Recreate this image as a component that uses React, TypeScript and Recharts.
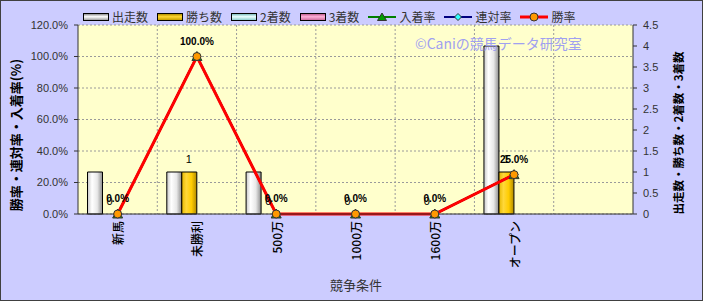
import { Bar, CartesianGrid, ComposedChart, LabelList, Line, XAxis, YAxis } from "recharts";

const categories = ["新馬", "未勝利", "500万", "1000万", "1600万", "オープン", ""];
const starts = [1, 1, 1, 0, 0, 4, null];
const wins = [0, 1, 0, 0, 0, 1, null];
const seconds = [0, 0, 0, 0, 0, 0, null];
const thirds = [0, 0, 0, 0, 0, 0, null];
const placeRate = [0, 100, 0, 0, 0, 25, null];
const rentaiRate = [0, 100, 0, 0, 0, 25, null];
const winRate = [0, 100, 0, 0, 0, 25, null];

const leftTicks = [0, 20, 40, 60, 80, 100, 120];
const rightTicks = [0, 0.5, 1, 1.5, 2, 2.5, 3, 3.5, 4, 4.5];

const data = categories.map((name, i) => ({
  name,
  starts: starts[i],
  wins: wins[i],
  seconds: seconds[i],
  thirds: thirds[i],
  place: placeRate[i],
  rentai: rentaiRate[i],
  win: winRate[i],
}));

const FONT = '"Noto Sans CJK JP", "Liberation Sans", sans-serif';
const NUM_FONT = '"Liberation Sans", Arial, sans-serif';

const legendItems = [
  { name: "出走数", kind: "bar", fill: "linear-gradient(to bottom, #909090, #ffffff 45%, #a0a0a0)" },
  { name: "勝ち数", kind: "bar", fill: "linear-gradient(to bottom, #b38f00, #ffd633 45%, #c79f00)" },
  { name: "2着数", kind: "bar", fill: "linear-gradient(to bottom, #7fbfbf, #eaffff 45%, #8fcfcf)" },
  { name: "3着数", kind: "bar", fill: "linear-gradient(to bottom, #c0608f, #ffb0d8 45%, #d0709f)" },
  { name: "入着率", kind: "line", stroke: "#008000", marker: "tri" },
  { name: "連対率", kind: "line", stroke: "#000080", marker: "dia" },
  { name: "勝率", kind: "line", stroke: "#ff0000", marker: "circle" },
];

function XTick(props: any) {
  const { x, y, payload } = props;
  const ty = y + 7;
  return (
    <text
      x={x}
      y={ty}
      transform={`rotate(-90 ${x} ${ty})`}
      textAnchor="end"
      dominantBaseline="central"
      fontSize={12}
      fontFamily={FONT}
      fontWeight={500}
      fill="#000"
    >
      {payload.value}
    </text>
  );
}

function TriangleDot(p: any) {
  const { cx, cy, index } = p;
  if (cx == null || cy == null) return <g key={`t-${index}`} />;
  return (
    <polygon
      key={`t-${index}`}
      points={`${cx},${cy - 5} ${cx - 5},${cy + 4} ${cx + 5},${cy + 4}`}
      fill="#00a000"
      stroke="#333"
      strokeWidth={1}
    />
  );
}

function DiamondDot(p: any) {
  const { cx, cy, index } = p;
  if (cx == null || cy == null) return <g key={`d-${index}`} />;
  return (
    <polygon
      key={`d-${index}`}
      points={`${cx},${cy - 4} ${cx + 4},${cy} ${cx},${cy + 4} ${cx - 4},${cy}`}
      fill="#33ffff"
      stroke="#333"
      strokeWidth={1}
    />
  );
}

function LegendMarker({ item }: { item: any }) {
  if (item.kind === "bar") {
    return (
      <span
        style={{
          display: "inline-block",
          width: 24,
          height: 6,
          border: "1px solid #000",
          background: item.fill,
        }}
      />
    );
  }
  return (
    <svg width={28} height={10} style={{ display: "block" }}>
      <line x1={0} y1={5} x2={28} y2={5} stroke={item.stroke} strokeWidth={item.marker === "circle" ? 3 : 2} />
      {item.marker === "tri" && <polygon points="14,1 9.5,8.5 18.5,8.5" fill="#00a000" stroke="#333" strokeWidth={1} />}
      {item.marker === "dia" && <polygon points="14,1.5 17.5,5 14,8.5 10.5,5" fill="#33ffff" stroke="#333" strokeWidth={1} />}
      {item.marker === "circle" && <circle cx={14} cy={5} r={4} fill="#ff9900" stroke="#333" strokeWidth={1} />}
    </svg>
  );
}

export default function App() {
  return (
    <div style={{ position: "absolute", left: 0, top: 0, width: 703, height: 301, background: "#ccccff" }}>
      <ComposedChart
        width={703}
        height={301}
        data={data}
        margin={{ top: 25, right: 0, bottom: 0, left: 0 }}
        barCategoryGap="12%"
        barGap={0}
      >
        <defs>
          <linearGradient id="gWhite" x1="0" y1="0" x2="1" y2="0">
            <stop offset="0%" stopColor="#c8c8c8" />
            <stop offset="30%" stopColor="#ffffff" />
            <stop offset="65%" stopColor="#e8e8e8" />
            <stop offset="100%" stopColor="#8c8c8c" />
          </linearGradient>
          <linearGradient id="gGold" x1="0" y1="0" x2="1" y2="0">
            <stop offset="0%" stopColor="#e6b800" />
            <stop offset="30%" stopColor="#ffd83a" />
            <stop offset="65%" stopColor="#ffcc00" />
            <stop offset="100%" stopColor="#b08a00" />
          </linearGradient>
          <linearGradient id="gCyan" x1="0" y1="0" x2="1" y2="0">
            <stop offset="0%" stopColor="#bfeeee" />
            <stop offset="30%" stopColor="#eaffff" />
            <stop offset="100%" stopColor="#80c0c0" />
          </linearGradient>
          <linearGradient id="gPink" x1="0" y1="0" x2="1" y2="0">
            <stop offset="0%" stopColor="#ee99c4" />
            <stop offset="30%" stopColor="#ffc0e0" />
            <stop offset="100%" stopColor="#c06090" />
          </linearGradient>
        </defs>
        <CartesianGrid
          yAxisId="left"
          fill="#ffffcc"
          stroke="#9a9a9a"
          strokeDasharray="2 2"
          verticalCoordinatesGenerator={({ offset }: any) =>
            categories.slice(1).map((_, i) => offset.left + (offset.width * (i + 1)) / categories.length)
          }
        />
        <XAxis
          dataKey="name"
          height={87}
          interval={0}
          tick={<XTick />}
          tickLine={false}
          tickSize={0}
          tickMargin={0}
          axisLine={{ stroke: "#333" }}
        />
        <YAxis
          yAxisId="left"
          orientation="left"
          width={78}
          domain={[0, 120]}
          ticks={leftTicks}
          tickFormatter={(v: number) => `${v.toFixed(1)}%`}
          tickSize={4}
          tickMargin={6}
          tick={{ fontSize: 11, fill: "#333", fontFamily: NUM_FONT }}
          axisLine={{ stroke: "#333" }}
          tickLine={{ stroke: "#333" }}
        />
        <YAxis
          yAxisId="right"
          orientation="right"
          width={70}
          domain={[0, 4.5]}
          ticks={rightTicks}
          tickFormatter={(v: number) => String(v)}
          tickSize={4}
          tickMargin={6}
          tick={{ fontSize: 11, fill: "#333", fontFamily: NUM_FONT }}
          axisLine={{ stroke: "#333" }}
          tickLine={{ stroke: "#333" }}
        />
        <Bar yAxisId="right" dataKey="starts" fill="url(#gWhite)" stroke="#000" strokeWidth={1} isAnimationActive={false} />
        <Bar yAxisId="right" dataKey="wins" fill="url(#gGold)" stroke="#000" strokeWidth={1} isAnimationActive={false} />
        <Bar yAxisId="right" dataKey="seconds" fill="url(#gCyan)" stroke="#000" strokeWidth={1} isAnimationActive={false} />
        <Bar yAxisId="right" dataKey="thirds" fill="url(#gPink)" stroke="#000" strokeWidth={1} isAnimationActive={false} />
        {/* value labels for 勝ち数, zero bars included */}
        <Line
          yAxisId="right"
          dataKey="wins"
          stroke="none"
          dot={false}
          activeDot={false}
          legendType="none"
          isAnimationActive={false}
        >
          <LabelList dataKey="wins" position="top" offset={9} dx={-8} fontSize={11} fill="#000" fontFamily={NUM_FONT} />
        </Line>
        <Line
          yAxisId="left"
          dataKey="place"
          stroke="#008000"
          strokeWidth={2}
          dot={TriangleDot}
          activeDot={false}
          isAnimationActive={false}
        />
        <Line
          yAxisId="left"
          dataKey="rentai"
          stroke="#000080"
          strokeWidth={2}
          dot={DiamondDot}
          activeDot={false}
          isAnimationActive={false}
        />
        <Line
          yAxisId="left"
          dataKey="win"
          stroke="#ff0000"
          strokeWidth={3}
          dot={{ r: 4, fill: "#ff9900", stroke: "#333", strokeWidth: 1 }}
          activeDot={false}
          isAnimationActive={false}
        >
          <LabelList
            dataKey="win"
            position="top"
            offset={12}
            fontSize={10}
            fontWeight="bold"
            fill="#000"
            fontFamily={NUM_FONT}
            formatter={(v: any) => (v == null ? "" : `${Number(v).toFixed(1)}%`)}
          />
        </Line>
      </ComposedChart>

      <div
        style={{
          position: "absolute",
          left: 83,
          top: 9,
          display: "flex",
          alignItems: "center",
          gap: 9,
          fontFamily: FONT,
          fontSize: 12,
          color: "#333",
          lineHeight: "16px",
          whiteSpace: "nowrap",
        }}
      >
        {legendItems.map((item) => (
          <div key={item.name} style={{ display: "flex", alignItems: "center", gap: 3 }}>
            <LegendMarker item={item} />
            <span>{item.name}</span>
          </div>
        ))}
      </div>

      <div
        style={{
          position: "absolute",
          left: 415,
          top: 34,
          fontFamily: FONT,
          fontSize: 14,
          lineHeight: "18px",
          color: "#a0a0f0",
          whiteSpace: "nowrap",
        }}
      >
        ©Caniの競馬データ研究室
      </div>

      <svg width={703} height={301} style={{ position: "absolute", left: 0, top: 0, pointerEvents: "none" }}>
        <text
          x={15}
          y={135}
          transform="rotate(-90 15 135)"
          textAnchor="middle"
          dominantBaseline="central"
          fontSize={13}
          fontWeight="bold"
          fontFamily={FONT}
          fill="#000"
        >
          勝率・連対率・入着率(%)
        </text>
        <text
          x={678}
          y={133}
          transform="rotate(-90 678 133)"
          textAnchor="middle"
          dominantBaseline="central"
          fontSize={11.5}
          fontWeight="bold"
          fontFamily={FONT}
          fill="#000"
        >
          出走数・勝ち数・2着数・3着数
        </text>
        <text x={356} y={284} textAnchor="middle" dominantBaseline="central" fontSize={13} fontFamily={FONT} fill="#333">
          競争条件
        </text>
        <rect x={0.5} y={0.5} width={702} height={300} fill="none" stroke="#404040" strokeWidth={1} />
      </svg>
    </div>
  );
}
